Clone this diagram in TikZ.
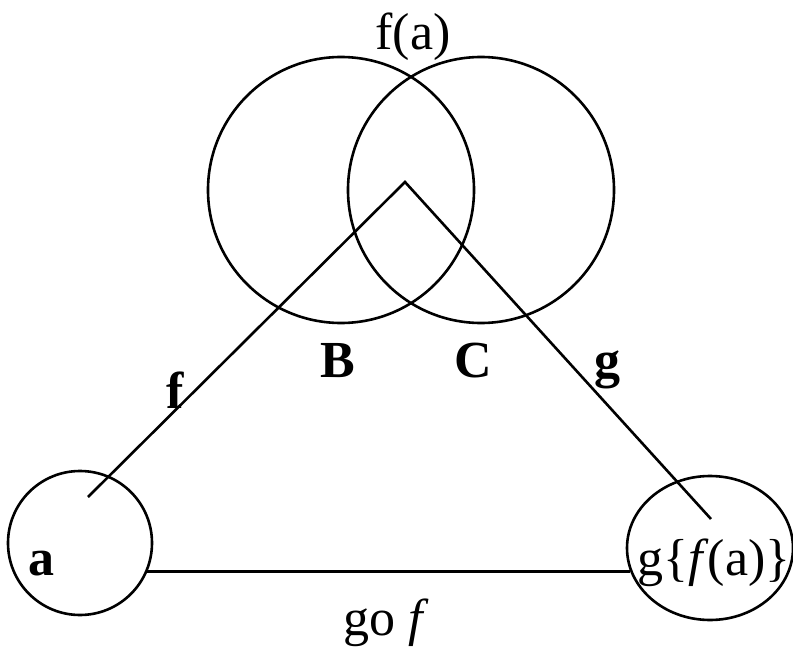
\documentclass[tikz,border=0pt]{standalone}
\usepackage{fontspec}
\setmainfont{Liberation Serif}
\usetikzlibrary{shapes.geometric}
\begin{document}
\begin{tikzpicture}[x=1bp,y=-1bp,
  line width=2.6bp,
  lbl/.style={anchor=base,inner sep=0pt,font=\fontsize{52bp}{60bp}\selectfont},
  blbl/.style={lbl,font=\fontsize{52bp}{60bp}\selectfont\bfseries},
  bigset/.style={circle,draw,minimum size=266bp,inner sep=0pt},
  elem/.style={circle,draw,minimum size=144bp,inner sep=0pt},
  elemell/.style={ellipse,draw,minimum width=166bp,minimum height=144bp,inner sep=0pt}]
\useasboundingbox (0,0) rectangle (793,648);
% sets
\node[bigset] (B) at (341,190) {};
\node[bigset] (C) at (481,190) {};
\node[elem] (A) at (80,543) {};
\node[elemell] (G) at (710,548) {};
% mapping points
\coordinate (apex) at (405,182);
\coordinate (ea) at (88,497);
\coordinate (eg) at (711,519);
\draw (ea) -- (apex) -- (eg);
\draw (A.-23) -- (A.-23 -| G.196);
% labels
\node[lbl] (tfa) at (413,50) {f(a)};
\node[blbl] (tB) at (338,377) {B};
\node[blbl] (tC) at (473,377) {C};
\node[blbl] (tf) at (175,408) {f};
\node[blbl] (tg) at (607,377) {g};
\node[blbl] (ta) at (41,575) {a};
\node[lbl] (tgfa) at (714,575) {g\{\textit{f}\kern-1bp(a)\}};
\node[lbl] (tgof) at (386,635) {go \textit{f}};
\end{tikzpicture}
\end{document}
